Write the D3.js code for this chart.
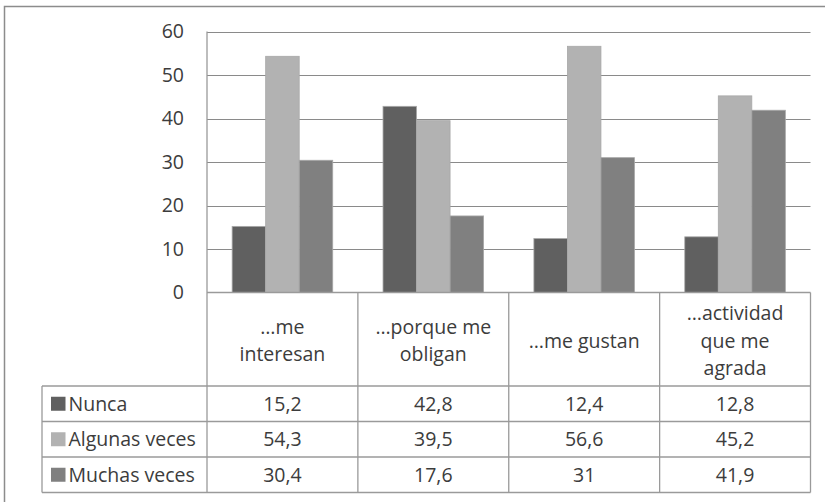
<!DOCTYPE html>
<html>
<head>
<meta charset="utf-8">
<script src="https://cdn.jsdelivr.net/npm/d3@7"></script>
<style>
  html, body { margin: 0; padding: 0; background: #fff; }
  svg { display: block; }
  text { font-family: "Open Sans", "Segoe UI", sans-serif; fill: #3c3c3c; }
</style>
</head>
<body>
<svg id="chart" width="825" height="502"></svg>
<script>
// Category labels (one entry per line of the header cell)
const categories = ["…me interesan", "…porque me obligan", "…me gustan", "…actividad que me agrada"];
const categoryLines = [
  ["…me", "interesan"],
  ["…porque me", "obligan"],
  ["…me gustan"],
  ["…actividad", "que me", "agrada"]
];
const seriesNames = ["Nunca", "Algunas veces", "Muchas veces"];
const nunca = [15.2, 42.8, 12.4, 12.8];
const algunas = [54.3, 39.5, 56.6, 45.2];
const muchas = [30.4, 17.6, 31, 41.9];
const seriesValues = [nunca, algunas, muchas];
const seriesColors = ["#606060", "#b2b2b2", "#808080"];
const yTicks = [0, 10, 20, 30, 40, 50, 60];

const svg = d3.select("#chart");
const fontSize = 19.5;

// Layout
const plot = { left: 207, right: 810.5, top: 31.5, bottom: 292.5 };
const tableLeft = 42;
const headerBottom = 386;
const rowH = 35.5;

const x = d3.scaleBand().domain(categories).range([plot.left, plot.right]).paddingInner(0).paddingOuter(0);
const xs = d3.scaleBand().domain(seriesNames).range([0, x.bandwidth()]).paddingInner(0).paddingOuter(0.75);
const y = d3.scaleLinear().domain([0, 60]).range([plot.bottom, plot.top]);

const fmt = v => String(v).replace(".", ",");

// Outer frame
svg.append("rect")
  .attr("x", 4.5).attr("y", 6.5)
  .attr("width", 840).attr("height", 520)
  .attr("fill", "none").attr("stroke", "#8c8c8c").attr("stroke-width", 1.5);

// Gridlines
svg.append("g")
  .selectAll("line")
  .data(yTicks.filter(t => t > 0))
  .join("line")
  .attr("x1", plot.left).attr("x2", plot.right)
  .attr("y1", d => Math.round(y(d)) + 0.5).attr("y2", d => Math.round(y(d)) + 0.5)
  .attr("stroke", "#8a8a8a").attr("stroke-width", 1.2);

// Y axis (labels only, line drawn separately)
const yAxis = d3.axisLeft(y).tickValues(yTicks).tickSize(0).tickPadding(23).tickFormat(d => d);
const gy = svg.append("g").attr("transform", `translate(${plot.left},0)`).call(yAxis);
gy.select(".domain").remove();
gy.selectAll("text")
  .attr("font-size", fontSize)
  .attr("font-family", "'Open Sans', sans-serif")
  .attr("fill", "#3c3c3c");

// Bars
const groups = svg.append("g")
  .selectAll("g")
  .data(seriesNames)
  .join("g")
  .attr("fill", (d, i) => seriesColors[i]);

groups.selectAll("rect")
  .data((s, si) => categories.map((c, ci) => ({ c, s, v: seriesValues[si][ci] })))
  .join("rect")
  .attr("x", d => x(d.c) + xs(d.s))
  .attr("width", xs.bandwidth())
  .attr("y", d => y(d.v))
  .attr("height", d => y(0) - y(d.v))
  .attr("stroke", "#a8a8a8")
  .attr("stroke-width", 0.8);

// Table grid
const lineColor = "#9a9a9a";
const grid = svg.append("g").attr("stroke", lineColor).attr("stroke-width", 1.3).attr("fill", "none");
// y axis line
grid.append("line").attr("x1", plot.left).attr("x2", plot.left).attr("y1", plot.top).attr("y2", headerBottom + rowH * 3);
// baseline and row separators
grid.append("line").attr("x1", plot.left).attr("x2", plot.right).attr("y1", plot.bottom).attr("y2", plot.bottom);
for (let r = 0; r <= 3; r++) {
  const yy = headerBottom + r * rowH;
  grid.append("line").attr("x1", tableLeft).attr("x2", plot.right).attr("y1", yy).attr("y2", yy);
}
// legend column left edge
grid.append("line").attr("x1", tableLeft).attr("x2", tableLeft).attr("y1", headerBottom).attr("y2", headerBottom + rowH * 3);
// category separators
categories.forEach(c => {
  const xx = x(c) + x.bandwidth();
  grid.append("line").attr("x1", xx).attr("x2", xx).attr("y1", plot.bottom).attr("y2", headerBottom + rowH * 3);
});

// Header labels
const lineGap = 27.5;
const headerMid = (plot.bottom + headerBottom) / 2 + 1.5;
categories.forEach((c, ci) => {
  const lines = categoryLines[ci];
  const t = svg.append("text")
    .attr("x", x(c) + x.bandwidth() / 2)
    .attr("text-anchor", "middle")
    .attr("font-size", fontSize);
  lines.forEach((ln, li) => {
    t.append("tspan")
      .attr("x", x(c) + x.bandwidth() / 2)
      .attr("y", headerMid + (li - (lines.length - 1) / 2) * lineGap)
      .attr("dy", "0.35em")
      .text(ln);
  });
});

// Legend rows with values
seriesNames.forEach((s, si) => {
  const cy = headerBottom + si * rowH + rowH / 2;
  svg.append("rect")
    .attr("x", 51).attr("y", cy - 7)
    .attr("width", 14.5).attr("height", 14)
    .attr("fill", seriesColors[si]);
  svg.append("text")
    .attr("x", 68.5).attr("y", cy).attr("dy", "0.35em")
    .attr("font-size", fontSize)
    .text(s);
  categories.forEach((c, ci) => {
    svg.append("text")
      .attr("x", x(c) + x.bandwidth() / 2)
      .attr("y", cy).attr("dy", "0.35em")
      .attr("text-anchor", "middle")
      .attr("font-size", fontSize)
      .text(fmt(seriesValues[si][ci]));
  });
});
</script>
</body>
</html>
